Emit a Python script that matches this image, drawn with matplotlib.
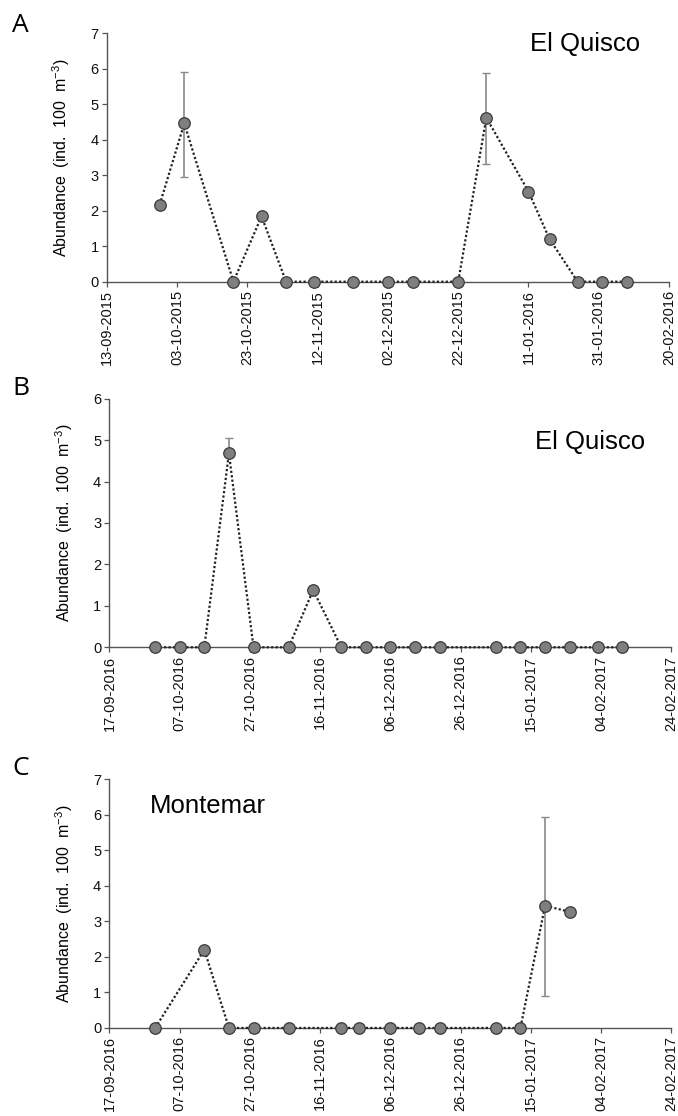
import matplotlib
matplotlib.use("Agg")
import matplotlib.pyplot as plt
import matplotlib.dates as mdates
import pandas as pd

plt.rcParams["font.family"] = ["Liberation Sans", "DejaVu Sans"]
plt.rcParams["mathtext.default"] = "regular"

# Panel A - El Quisco, 2015-2016
dates_a = ["2015-09-28", "2015-10-05", "2015-10-19", "2015-10-27", "2015-11-03",
           "2015-11-11", "2015-11-22", "2015-12-02", "2015-12-09", "2015-12-22",
           "2015-12-30", "2016-01-11", "2016-01-17", "2016-01-25", "2016-02-01",
           "2016-02-08"]
abund_a = [2.17, 4.46, 0, 1.84, 0, 0, 0, 0, 0, 0, 4.62, 2.54, 1.20, 0, 0, 0]
err_dates_a = ["2015-10-05", "2015-12-30"]
err_low_a = [1.50, 1.30]
err_high_a = [1.44, 1.25]

# Panel B - El Quisco, 2016-2017
dates_b = ["2016-09-30", "2016-10-07", "2016-10-14", "2016-10-21", "2016-10-28",
           "2016-11-07", "2016-11-14", "2016-11-22", "2016-11-29", "2016-12-06",
           "2016-12-13", "2016-12-20", "2017-01-05", "2017-01-12", "2017-01-19",
           "2017-01-26", "2017-02-03", "2017-02-10"]
abund_b = [0, 0, 0, 4.68, 0, 0, 1.38, 0, 0, 0, 0, 0, 0, 0, 0, 0, 0, 0]
err_dates_b = ["2016-10-21"]
err_low_b = [0.0]
err_high_b = [0.38]

# Panel C - Montemar, 2016-2017
dates_c = ["2016-09-30", "2016-10-14", "2016-10-21", "2016-10-28", "2016-11-07",
           "2016-11-22", "2016-11-27", "2016-12-06", "2016-12-14", "2016-12-20",
           "2017-01-05", "2017-01-12", "2017-01-19", "2017-01-26"]
abund_c = [0, 2.20, 0, 0, 0, 0, 0, 0, 0, 0, 0, 0, 3.44, 3.27]
err_dates_c = ["2017-01-19"]
err_low_c = [2.55]
err_high_c = [2.50]


def draw_panel(ax, dates, values, err_dates, err_low, err_high, start, ymax):
    d = pd.to_datetime(dates)
    start = pd.Timestamp(start)
    end = start + pd.Timedelta(days=160)

    # error bars first so the dots sit on top
    lookup = dict(zip(d, values))
    ed = pd.to_datetime(err_dates)
    ey = [lookup[x] for x in ed]
    ax.errorbar(ed, ey, yerr=[err_low, err_high], fmt="none", ecolor="#8a8a8a",
                elinewidth=1.2, capsize=3, capthick=1.0, zorder=2)

    ax.plot(d, values, linestyle=(0, (1.0, 1.0)), color="#222222", linewidth=1.6,
            zorder=3, clip_on=False)
    ax.plot(d, values, linestyle="none", marker="o", markersize=8.3,
            markerfacecolor="#7f7f7f", markeredgecolor="#3a3a3a",
            markeredgewidth=0.9, zorder=4, clip_on=False)

    ax.set_xlim(start, end)
    ax.set_ylim(0, ymax)
    ax.set_yticks(range(0, ymax + 1))
    ticks = [start + pd.Timedelta(days=20 * k) for k in range(9)]
    ax.set_xticks(ticks)
    ax.xaxis.set_major_formatter(mdates.DateFormatter("%d-%m-%Y"))
    for lbl in ax.get_xticklabels():
        lbl.set_rotation(90)

    ax.spines["top"].set_visible(False)
    ax.spines["right"].set_visible(False)
    for s in ["left", "bottom"]:
        ax.spines[s].set_color("#555555")
        ax.spines[s].set_linewidth(1.0)
    ax.tick_params(direction="out", length=3.5, width=0.9, color="#555555",
                   labelsize=10.5, labelcolor="#111111", pad=2.5)
    ax.set_ylabel("Abundance  (ind.  100  m$^{-3}$)", fontsize=11.5)
    ax.yaxis.set_label_coords(-0.062, 0.5)


fig = plt.figure(figsize=(6.78, 11.16), dpi=100)

ax_a = fig.add_axes([0.1578, 0.7476, 0.8289, 0.2226])
ax_b = fig.add_axes([0.1615, 0.4200, 0.8289, 0.2228])
ax_c = fig.add_axes([0.1615, 0.0789, 0.8289, 0.2228])

draw_panel(ax_a, dates_a, abund_a, err_dates_a, err_low_a, err_high_a, "2015-09-13", 7)
draw_panel(ax_b, dates_b, abund_b, err_dates_b, err_low_b, err_high_b, "2016-09-17", 6)
draw_panel(ax_c, dates_c, abund_c, err_dates_c, err_low_c, err_high_c, "2016-09-17", 7)

# site names
ax_a.text(0.753, 0.957, "El Quisco", transform=ax_a.transAxes, fontsize=18.5,
          ha="left", va="center")
ax_b.text(0.757, 0.826, "El Quisco", transform=ax_b.transAxes, fontsize=18.5,
          ha="left", va="center")
ax_c.text(0.072, 0.893, "Montemar", transform=ax_c.transAxes, fontsize=18.5,
          ha="left", va="center")

# panel letters
for letter, ytop in [("A", 13), ("B", 376), ("C", 756)]:
    fig.text(12 / 678, 1 - ytop / 1116, letter, fontsize=19, ha="left", va="top",
             family=["Open Sans", "DejaVu Sans"])

fig.savefig("out.png", dpi=100)
